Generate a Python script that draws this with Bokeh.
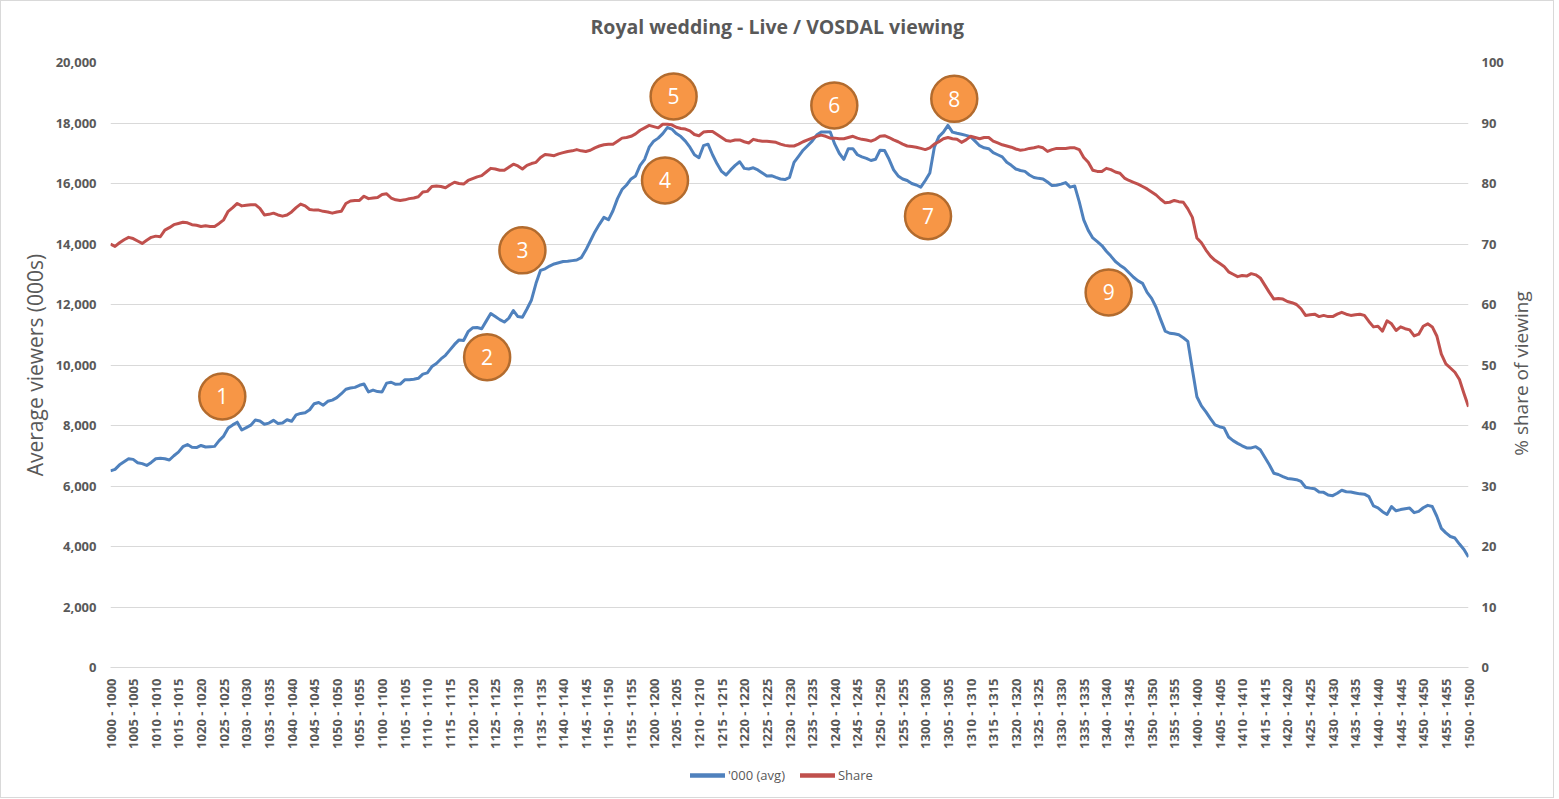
import math
from bokeh.plotting import figure
from bokeh.layouts import column
from bokeh.models import (Range1d, LinearAxis, FixedTicker, NumeralTickFormatter,
                          Legend, LegendItem)
from bokeh.core.properties import value
from bokeh.embed import file_html
from bokeh.resources import INLINE

# ---------------- data ----------------
# one category per minute, 10:00 ... 15:00
time_labels = []
for hh in range(10, 16):
    for mm in range(60):
        if hh == 15 and mm > 0:
            break
        t = f"{hh}{mm:02d}"
        time_labels.append(f"{t} - {t}")
minute_idx = list(range(len(time_labels)))
tick_idx = list(range(0, len(time_labels), 5))

viewers = [
    6500, 6550, 6700, 6800, 6900, 6880, 6770, 6740, 6680, 6780,
    6900, 6920, 6900, 6860, 7000, 7120, 7300, 7370, 7280, 7270,
    7340, 7290, 7300, 7310, 7500, 7650, 7920, 8020, 8110, 7850,
    7930, 8010, 8180, 8150, 8040, 8080, 8170, 8070, 8080, 8190,
    8140, 8350, 8400, 8420, 8520, 8720, 8760, 8670, 8800, 8840,
    8920, 9050, 9200, 9240, 9260, 9330, 9370, 9110, 9170, 9120,
    9110, 9400, 9430, 9360, 9370, 9510, 9510, 9530, 9560, 9700,
    9740, 9950, 10050, 10200, 10320, 10500, 10680, 10830, 10810, 11100,
    11230, 11240, 11200, 11450, 11700, 11600, 11500, 11420, 11550, 11800,
    11600, 11580, 11850, 12150, 12700, 13130, 13180, 13270, 13340, 13380,
    13420, 13430, 13450, 13470, 13550, 13800, 14100, 14400, 14650, 14880,
    14800, 15100, 15500, 15800, 15950, 16150, 16250, 16600, 16800, 17200,
    17400, 17500, 17650, 17850, 17800, 17650, 17550, 17400, 17200, 16950,
    16850, 17250, 17300, 16950, 16650, 16400, 16280, 16450, 16600, 16720,
    16500, 16480, 16520, 16450, 16350, 16250, 16260, 16200, 16150, 16130,
    16200, 16700, 16900, 17100, 17250, 17400, 17600, 17700, 17700, 17700,
    17300, 17000, 16800, 17150, 17150, 16950, 16880, 16830, 16760, 16800,
    17100, 17090, 16800, 16450, 16250, 16150, 16100, 16000, 15950, 15880,
    16100, 16350, 17200, 17550, 17700, 17920, 17700, 17660, 17630, 17590,
    17550, 17400, 17250, 17180, 17150, 17020, 16950, 16880, 16700, 16600,
    16480, 16430, 16400, 16280, 16200, 16170, 16150, 16050, 15930, 15940,
    15980, 16030, 15880, 15920, 15400, 14800, 14450, 14200, 14080, 13950,
    13760, 13600, 13420, 13300, 13200, 13050, 12900, 12780, 12700, 12400,
    12200, 11900, 11500, 11120, 11050, 11030, 11000, 10900, 10780, 9850,
    8950, 8650, 8450, 8230, 8020, 7960, 7920, 7620, 7500, 7410,
    7330, 7260, 7260, 7300, 7200, 6950, 6700, 6420, 6380, 6310,
    6250, 6230, 6210, 6150, 5960, 5930, 5910, 5800, 5790, 5700,
    5680, 5760, 5860, 5810, 5800, 5770, 5740, 5730, 5650, 5340,
    5280, 5150, 5060, 5320, 5180, 5220, 5250, 5270, 5120, 5160,
    5280, 5360, 5320, 5000, 4600, 4450, 4330, 4280, 4080, 3900,
    3650,
]

share = [
    70.0, 69.6, 70.2, 70.7, 71.1, 70.9, 70.5, 70.1, 70.6, 71.1,
    71.3, 71.2, 72.3, 72.7, 73.2, 73.4, 73.6, 73.5, 73.2, 73.1,
    72.9, 73.0, 72.9, 72.9, 73.4, 74.0, 75.4, 76.0, 76.7, 76.3,
    76.4, 76.5, 76.5, 75.9, 74.8, 74.9, 75.1, 74.8, 74.6, 74.8,
    75.3, 76.0, 76.6, 76.3, 75.7, 75.6, 75.6, 75.4, 75.3, 75.1,
    75.3, 75.4, 76.7, 77.1, 77.2, 77.2, 77.9, 77.5, 77.6, 77.7,
    78.2, 78.3, 77.6, 77.3, 77.2, 77.3, 77.5, 77.6, 77.8, 78.6,
    78.7, 79.5, 79.6, 79.5, 79.3, 79.8, 80.2, 80.0, 79.9, 80.5,
    80.8, 81.1, 81.3, 81.9, 82.5, 82.4, 82.2, 82.2, 82.7, 83.2,
    82.9, 82.4, 83.0, 83.3, 83.5, 84.3, 84.8, 84.7, 84.6, 84.9,
    85.1, 85.3, 85.4, 85.6, 85.4, 85.3, 85.5, 85.9, 86.2, 86.4,
    86.5, 86.5, 87.0, 87.5, 87.6, 87.8, 88.2, 88.8, 89.2, 89.6,
    89.4, 89.2, 89.8, 89.8, 89.7, 89.3, 89.1, 89.0, 88.7, 88.1,
    87.9, 88.5, 88.6, 88.6, 88.1, 87.6, 87.1, 87.0, 87.2, 87.2,
    86.9, 86.7, 87.3, 87.1, 87.0, 87.0, 86.9, 86.8, 86.5, 86.3,
    86.2, 86.2, 86.5, 86.9, 87.2, 87.5, 87.8, 88.0, 87.8, 87.5,
    87.5, 87.4, 87.4, 87.6, 87.8, 87.5, 87.3, 87.2, 87.0, 87.3,
    87.8, 87.9, 87.6, 87.2, 86.9, 86.5, 86.2, 86.1, 86.0, 85.8,
    85.6, 85.9, 86.5, 86.9, 87.4, 87.6, 87.4, 87.3, 86.8, 87.2,
    87.8, 87.6, 87.4, 87.6, 87.6, 87.0, 86.7, 86.4, 86.2, 86.0,
    85.7, 85.5, 85.6, 85.8, 85.9, 86.1, 85.9, 85.3, 85.6, 85.8,
    85.8, 85.8, 85.9, 85.9, 85.6, 84.3, 83.5, 82.2, 82.0, 82.0,
    82.5, 82.3, 81.9, 81.7, 80.9, 80.5, 80.2, 79.9, 79.5, 79.1,
    78.6, 78.1, 77.4, 76.8, 76.9, 77.2, 77.0, 76.9, 75.8, 74.4,
    71.0, 70.2, 69.0, 68.0, 67.3, 66.8, 66.3, 65.4, 65.0, 64.6,
    64.8, 64.7, 65.1, 64.9, 64.4, 63.2, 62.0, 60.9, 61.0, 60.9,
    60.5, 60.3, 60.0, 59.3, 58.2, 58.3, 58.4, 58.0, 58.2, 58.0,
    58.0, 58.4, 58.7, 58.4, 58.2, 58.3, 58.4, 58.2, 57.2, 56.3,
    56.4, 55.6, 57.3, 56.8, 55.7, 56.3, 56.0, 55.8, 54.8, 55.1,
    56.4, 56.8, 56.3, 54.8, 51.8, 50.2, 49.5, 48.8, 47.6, 45.3,
    43.1,
]

viewer_ticks = [0, 2000, 4000, 6000, 8000, 10000, 12000, 14000, 16000, 18000, 20000]
share_ticks = [0, 10, 20, 30, 40, 50, 60, 70, 80, 90, 100]

# numbered call-outs (minute offset from 10:00, viewers in 000s)
note_text = ["1", "2", "3", "4", "5", "6", "7", "8", "9"]
note_minute = [24.7, 83.2, 91.0, 122.5, 124.4, 159.9, 180.6, 186.4, 220.5]
note_value = [8960, 10260, 13790, 16100, 18880, 18580, 14920, 18800, 12400]

series_names = ["'000 (avg)", "Share"]
left_title = "Average viewers (000s)"
right_title = "% share of viewing"
chart_title = "Royal wedding - Live / VOSDAL viewing"

# ---------------- styling ----------------
GREY = "#595959"
BLUE = "#4F81BD"
RED = "#C0504D"
FONT = "Open Sans"
W = 1552


def bare(fig):
    fig.outline_line_color = None
    fig.background_fill_color = "white"
    fig.border_fill_color = "white"


# ---- header strip with the chart title ----
ph = figure(width=W, height=50, output_backend="svg", toolbar_location=None,
            x_range=Range1d(0, 1), y_range=Range1d(0, 1),
            x_axis_location=None, y_axis_location=None,
            min_border_left=0, min_border_right=0, min_border_top=0,
            min_border_bottom=0, title=chart_title)
bare(ph)
ph.grid.visible = False
ph.title.text_font = FONT
ph.title.text_font_size = "19.5px"
ph.title.text_font_style = "bold"
ph.title.text_color = GREY
ph.title.align = "left"
ph.title.offset = 480
ph.title.standoff = 18

# ---- main chart ----
p = figure(width=W, height=702, output_backend="svg", toolbar_location=None,
           x_range=Range1d(0, len(time_labels) - 1), y_range=Range1d(0, 20000),
           min_border_left=109, min_border_right=85, min_border_top=11,
           min_border_bottom=86)
bare(p)
p.extra_y_ranges = {"share": Range1d(0, 100)}

p.xgrid.visible = False
p.ygrid.ticker = FixedTicker(ticks=viewer_ticks)
p.ygrid.grid_line_color = "#D9D9D9"
p.ygrid.grid_line_width = 1


def plain_axis(ax, standoff):
    ax.axis_line_color = None
    ax.major_tick_line_color = None
    ax.minor_tick_line_color = None
    ax.major_tick_out = 0
    ax.major_tick_in = 0
    ax.major_label_standoff = standoff
    ax.major_label_text_font = FONT
    ax.major_label_text_font_size = "13px"
    ax.major_label_text_font_style = "bold"
    ax.major_label_text_color = GREY


xa = p.xaxis[0]
plain_axis(xa, 11)
xa.axis_line_color = "#D9D9D9"
xa.ticker = FixedTicker(ticks=tick_idx)
xa.major_label_overrides = {i: time_labels[i] for i in tick_idx}
xa.major_label_orientation = math.pi / 2

ya = p.yaxis[0]
plain_axis(ya, 14)
ya.ticker = FixedTicker(ticks=viewer_ticks)
ya.formatter = NumeralTickFormatter(format="0,0")
ya.axis_label = left_title
ya.axis_label_text_font = FONT
ya.axis_label_text_font_size = "21px"
ya.axis_label_text_font_style = "normal"
ya.axis_label_text_color = GREY
ya.axis_label_standoff = 4

ra = LinearAxis(y_range_name="share", ticker=FixedTicker(ticks=share_ticks))
plain_axis(ra, 13)
p.add_layout(ra, "right")

# right axis title, drawn as a single rotated label (reads bottom to top)
title_pos = 35.0
rt = LinearAxis(y_range_name="share", ticker=FixedTicker(ticks=[title_pos]))
plain_axis(rt, 14)
rt.major_label_overrides = {title_pos: right_title}
rt.major_label_orientation = math.pi / 2
rt.major_label_text_font_size = "19px"
rt.major_label_text_font_style = "normal"
p.add_layout(rt, "right")

p.line(minute_idx, viewers, line_color=BLUE, line_width=3, line_join="round")
p.line(minute_idx, share, line_color=RED, line_width=3, line_join="round",
       y_range_name="share")

p.scatter(note_minute, note_value, marker="circle", size=46, fill_color="#F79646",
          line_color="#B26B2E", line_width=2.5)
p.text(note_minute, note_value, text=note_text, text_align="center",
       text_baseline="middle", text_color="white", text_font_size="21px",
       text_font=value(FONT))

# ---- legend strip under the chart ----
pl = figure(width=W, height=44, output_backend="svg", toolbar_location=None,
            x_range=Range1d(0, len(time_labels) - 1), y_range=Range1d(-2, -1),
            x_axis_location=None, y_axis_location=None,
            min_border_left=0, min_border_right=0, min_border_top=0,
            min_border_bottom=0)
bare(pl)
pl.grid.visible = False
# the series again (outside this strip's visible range) only to key the legend
lg_view = pl.line(minute_idx, viewers, line_color=BLUE, line_width=4.5, line_cap="round")
lg_share = pl.line(minute_idx, share, line_color=RED, line_width=4.5, line_cap="round")
legend = Legend(items=[LegendItem(label=series_names[0], renderers=[lg_view]),
                       LegendItem(label=series_names[1], renderers=[lg_share])],
                orientation="horizontal", location=(580, 12),
                border_line_color=None, background_fill_alpha=0,
                label_text_font=FONT, label_text_font_size="13px",
                label_text_color=GREY, glyph_width=35, glyph_height=20,
                label_standoff=3, spacing=15, padding=0, margin=0)
pl.add_layout(legend, "center")

page = column(ph, p, pl, spacing=0)
page.styles = {"border": "1px solid #D9D9D9"}

open("out.html", "w").write(file_html(page, INLINE))
